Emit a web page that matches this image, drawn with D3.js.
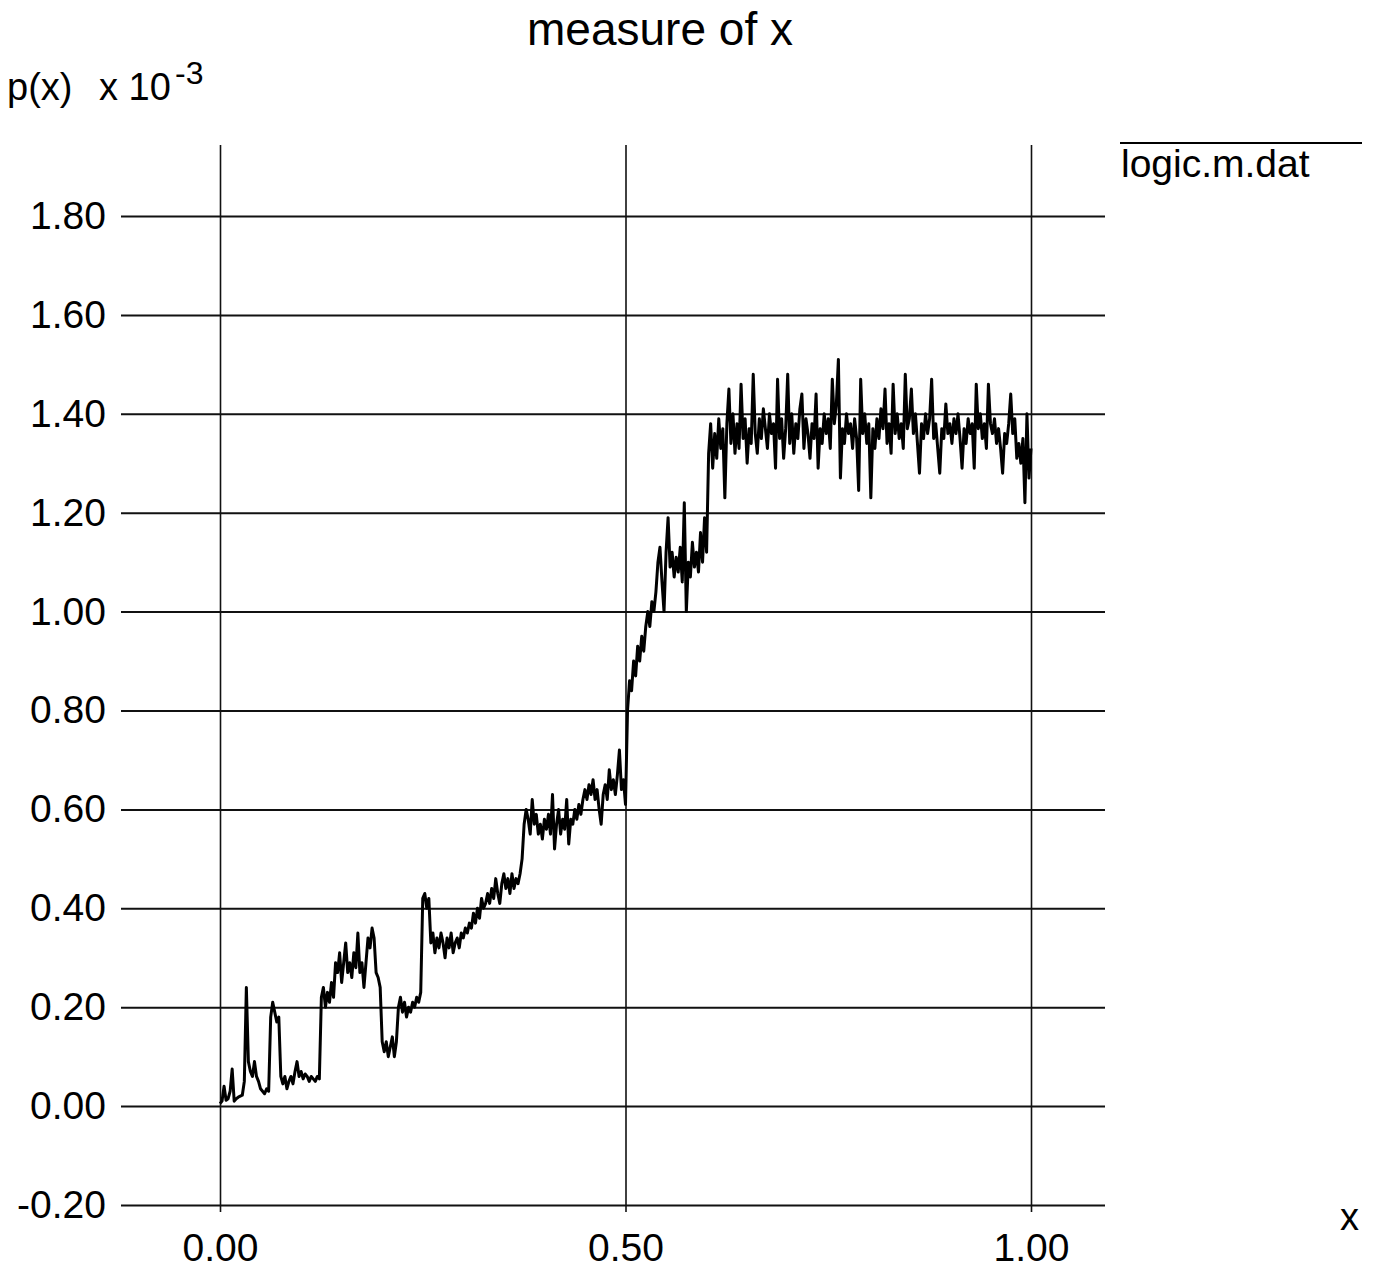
<!DOCTYPE html>
<html>
<head>
<meta charset="utf-8">
<script src="https://cdn.jsdelivr.net/npm/d3@7"></script>
<style>
  html, body { margin: 0; padding: 0; background: #fff; }
  svg { display: block; }
  text { font-family: "Liberation Sans", Arial, Helvetica, sans-serif; fill: #000; }
</style>
</head>
<body>
<svg id="chart" width="1381" height="1275"></svg>
<script>
// ---- data ----
const chartTitle = "measure of x";
const seriesName = "logic.m.dat";
const xStart = 0;
const xStep = 0.0025;
// p(x) in units of 1e-3, sampled at x = xStart + i * xStep
const pValues = [
  0.005,0.01,0.04,0.012,0.015,0.03,0.075,0.01,0.015,0.018,0.02,0.022,0.05,0.24,0.09,0.07,0.06,0.09,0.06,0.05,
  0.035,0.03,0.025,0.035,0.03,0.18,0.21,0.19,0.17,0.18,0.06,0.045,0.06,0.035,0.05,0.06,0.045,0.07,0.09,0.06,
  0.07,0.055,0.065,0.06,0.05,0.06,0.055,0.05,0.06,0.055,0.22,0.24,0.20,0.23,0.21,0.25,0.22,0.29,0.27,0.31,
  0.25,0.29,0.33,0.27,0.29,0.26,0.31,0.28,0.35,0.27,0.29,0.24,0.29,0.34,0.32,0.36,0.34,0.27,0.26,0.24,
  0.13,0.11,0.13,0.10,0.12,0.14,0.10,0.13,0.20,0.22,0.19,0.21,0.18,0.20,0.19,0.21,0.20,0.22,0.21,0.23,
  0.42,0.43,0.40,0.42,0.33,0.35,0.31,0.34,0.32,0.35,0.33,0.30,0.34,0.32,0.35,0.31,0.33,0.34,0.32,0.35,
  0.34,0.36,0.35,0.37,0.36,0.39,0.37,0.40,0.38,0.42,0.40,0.41,0.43,0.41,0.44,0.42,0.46,0.43,0.41,0.45,
  0.47,0.44,0.46,0.43,0.47,0.44,0.46,0.45,0.47,0.50,0.57,0.60,0.58,0.55,0.62,0.57,0.59,0.55,0.57,0.54,
  0.58,0.56,0.59,0.55,0.63,0.52,0.57,0.60,0.55,0.58,0.56,0.62,0.53,0.58,0.57,0.60,0.58,0.61,0.59,0.62,
  0.64,0.62,0.65,0.63,0.66,0.62,0.64,0.60,0.57,0.63,0.65,0.62,0.68,0.64,0.66,0.63,0.67,0.72,0.64,0.66,
  0.61,0.80,0.86,0.84,0.90,0.87,0.93,0.90,0.95,0.92,0.97,1.00,0.97,1.02,1.00,1.04,1.10,1.13,1.06,1.00,
  1.12,1.19,1.09,1.12,1.07,1.11,1.08,1.13,1.06,1.22,1.00,1.10,1.07,1.14,1.09,1.12,1.08,1.16,1.10,1.19,
  1.12,1.32,1.38,1.29,1.36,1.31,1.39,1.33,1.37,1.23,1.38,1.45,1.34,1.40,1.32,1.38,1.33,1.46,1.35,1.39,
  1.30,1.37,1.34,1.48,1.36,1.32,1.39,1.35,1.41,1.37,1.33,1.40,1.36,1.38,1.29,1.47,1.35,1.39,1.31,1.37,
  1.48,1.34,1.40,1.32,1.38,1.35,1.41,1.44,1.33,1.39,1.36,1.31,1.38,1.35,1.44,1.29,1.37,1.34,1.40,1.36,
  1.39,1.33,1.47,1.38,1.42,1.51,1.27,1.37,1.34,1.40,1.36,1.38,1.33,1.39,1.35,1.245,1.47,1.36,1.40,1.34,
  1.38,1.23,1.37,1.33,1.39,1.35,1.41,1.37,1.45,1.34,1.38,1.32,1.46,1.36,1.40,1.35,1.38,1.33,1.48,1.37,
  1.39,1.45,1.36,1.40,1.34,1.28,1.38,1.35,1.40,1.36,1.39,1.47,1.35,1.38,1.33,1.28,1.37,1.35,1.42,1.36,
  1.38,1.34,1.39,1.36,1.40,1.35,1.29,1.37,1.34,1.39,1.36,1.38,1.29,1.46,1.37,1.40,1.35,1.38,1.33,1.46,
  1.38,1.36,1.39,1.34,1.37,1.33,1.28,1.36,1.34,1.38,1.44,1.36,1.39,1.31,1.34,1.30,1.35,1.22,1.40,1.27,
  1.33
];
const xTicks = [0, 0.5, 1];
const xTickLabels = ["0.00", "0.50", "1.00"];
const yTicks = [-0.2, 0, 0.2, 0.4, 0.6, 0.8, 1.0, 1.2, 1.4, 1.6, 1.8];
const yTickLabels = ["-0.20", "0.00", "0.20", "0.40", "0.60", "0.80", "1.00", "1.20", "1.40", "1.60", "1.80"];

// ---- layout ----
const svg = d3.select("#chart");
svg.append("rect").attr("width", 1381).attr("height", 1275).attr("fill", "#fff");

const gridLeft = 121, gridRight = 1105;
const vTop = 145, vBottom = 1212;

const x = d3.scaleLinear().domain([0, 1]).range([220, 1031]);
const y = d3.scaleLinear().domain([-0.2, 1.8]).range([1205, 216]);

// horizontal grid + y labels
const yAxis = d3.axisLeft(y)
  .tickValues(yTicks)
  .tickFormat((d, i) => yTickLabels[i])
  .tickSizeInner(-(gridRight - gridLeft))
  .tickSizeOuter(0)
  .tickPadding(15);
const gy = svg.append("g").attr("transform", `translate(${gridLeft},0)`).call(yAxis);
gy.select(".domain").remove();
gy.selectAll(".tick line").attr("stroke", "#111").attr("stroke-width", 2);
gy.selectAll(".tick text").style("font-size", "39px").attr("fill", "#000");

// vertical grid + x labels
const xAxis = d3.axisBottom(x)
  .tickValues(xTicks)
  .tickFormat((d, i) => xTickLabels[i])
  .tickSizeInner(vBottom - vTop)
  .tickSizeOuter(0)
  .tickPadding(21);
const gx = svg.append("g").attr("transform", `translate(0,${vTop})`).call(xAxis);
gx.select(".domain").remove();
gx.selectAll(".tick line").attr("stroke", "#111").attr("stroke-width", 1.6);
gx.selectAll(".tick text").style("font-size", "39px").attr("fill", "#000");

// data line
const line = d3.line()
  .x((d, i) => x(xStart + i * xStep))
  .y(d => y(d));
svg.append("path")
  .datum(pValues)
  .attr("fill", "none")
  .attr("stroke", "#000")
  .attr("stroke-width", 3)
  .attr("stroke-linejoin", "round")
  .attr("d", line);

// title
svg.append("text")
  .attr("x", 660).attr("y", 45)
  .attr("text-anchor", "middle")
  .style("font-size", "46px")
  .text(chartTitle);

// y-axis label p(x) x 10^-3
svg.append("text").attr("x", 7).attr("y", 100).style("font-size", "38px").text("p(x)");
svg.append("text").attr("x", 99).attr("y", 100).style("font-size", "38px").text("x 10");
svg.append("text").attr("x", 175).attr("y", 84).style("font-size", "32px").text("-3");

// x-axis label
svg.append("text").attr("x", 1340).attr("y", 1230).style("font-size", "38px").text("x");

// legend
svg.append("line")
  .attr("x1", 1120).attr("x2", 1362)
  .attr("y1", 143).attr("y2", 143)
  .attr("stroke", "#000").attr("stroke-width", 2.2);
svg.append("text").attr("x", 1121).attr("y", 177).style("font-size", "39px").text(seriesName);
</script>
</body>
</html>
